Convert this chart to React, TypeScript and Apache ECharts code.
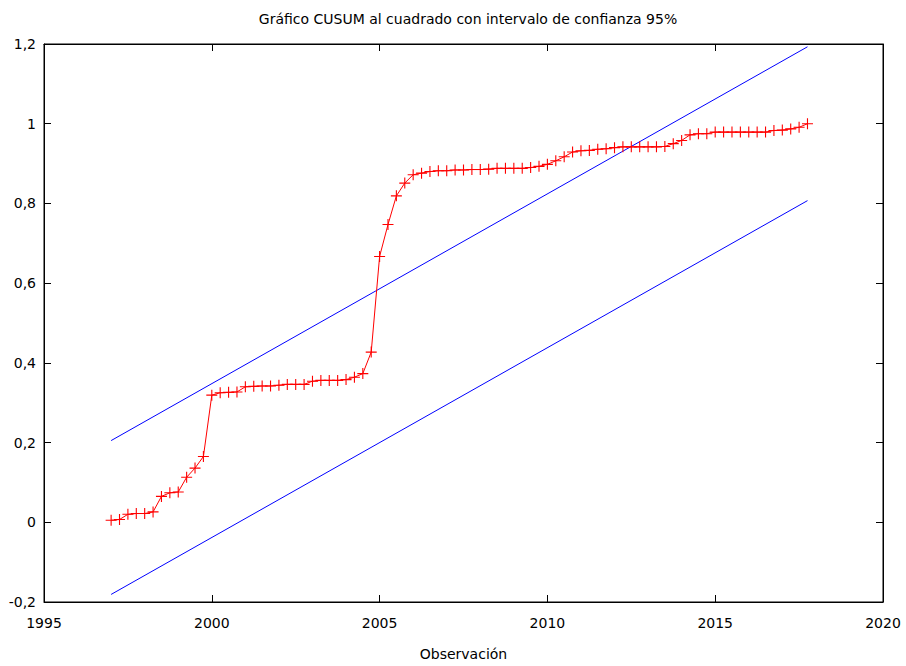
import React, { useEffect, useRef } from "react";
import * as echarts from "echarts";

// Quarterly observations, 1997:1 .. 2017:4
const startYear = 1997;
const periodsPerYear = 4;
const cusumsq = [
  0.005, 0.007, 0.020, 0.022, 0.022, 0.026, 0.065, 0.074, 0.076, 0.113, 0.136, 0.165,
  0.319, 0.325, 0.326, 0.327, 0.340, 0.341, 0.342, 0.342, 0.344, 0.346, 0.346, 0.346,
  0.354, 0.356, 0.356, 0.356, 0.358, 0.364, 0.373, 0.427, 0.667, 0.747, 0.819, 0.851,
  0.872, 0.876, 0.880, 0.882, 0.882, 0.884, 0.884, 0.885, 0.885, 0.886, 0.888, 0.888,
  0.888, 0.888, 0.890, 0.893, 0.898, 0.907, 0.917, 0.929, 0.932, 0.933, 0.936, 0.937,
  0.940, 0.942, 0.942, 0.942, 0.942, 0.942, 0.943, 0.950, 0.958, 0.972, 0.975, 0.975,
  0.979, 0.979, 0.979, 0.979, 0.979, 0.979, 0.979, 0.983, 0.984, 0.987, 0.991, 1.0,
];
// Confidence band endpoints (straight lines)
const upperBand: [number, number][] = [[1997, 0.205], [2017.75, 1.193]];
const lowerBand: [number, number][] = [[1997, -0.181], [2017.75, 0.807]];

const xTicks = { min: 1995, max: 2020, interval: 5 };
const yTicks = { min: -0.2, max: 1.2, interval: 0.2 };

const titleText = "Gráfico CUSUM al cuadrado con intervalo de confianza 95%";
const xName = "Observación";

const FONT = "DejaVu Sans";
const FS = 14;

export default function App() {
  const ref = useRef<HTMLDivElement>(null);
  useEffect(() => {
    if (!ref.current) return;
    const chart = echarts.init(ref.current, undefined, { renderer: "svg" });
    const points = cusumsq.map((v, i) => [startYear + i / periodsPerYear, v]);
    const fmtY = (v: number) => {
      const r = Math.round(v * 10) / 10;
      return String(r).replace(".", ",");
    };
    const fmtX = (v: number) => String(Math.round(v));
    const tick = { show: true, inside: true, length: 7, lineStyle: { color: "#000", width: 1 } };
    const axisLine = { show: true, onZero: false, lineStyle: { color: "#000", width: 1 } };
    chart.setOption({
      animation: false,
      backgroundColor: "#fff",
      title: {
        text: titleText,
        left: 463,
        textAlign: "center",
        top: 7,
        textStyle: { fontFamily: FONT, fontSize: FS, fontWeight: "normal", color: "#000" },
      },
      grid: {
        left: 44, right: 23, top: 44, bottom: 55,
        show: true, borderColor: "#000", borderWidth: 1, containLabel: false,
      },
      xAxis: [
        {
          type: "value", ...xTicks, position: "bottom",
          name: xName, nameLocation: "middle", nameGap: 45,
          nameTextStyle: { fontFamily: FONT, fontSize: FS, color: "#000" },
          axisLine, axisTick: tick, splitLine: { show: false },
          axisLabel: { fontFamily: FONT, fontSize: FS, color: "#000", margin: 14, formatter: fmtX },
        },
        {
          type: "value", ...xTicks, position: "top",
          axisLine, axisTick: tick, splitLine: { show: false }, axisLabel: { show: false },
        },
      ],
      yAxis: [
        {
          type: "value", ...yTicks, position: "left",
          axisLine, axisTick: tick, splitLine: { show: false },
          axisLabel: { fontFamily: FONT, fontSize: FS, color: "#000", margin: 8, formatter: fmtY },
        },
        {
          type: "value", ...yTicks, position: "right",
          axisLine, axisTick: tick, splitLine: { show: false }, axisLabel: { show: false },
        },
      ],
      series: [
        {
          type: "line", data: upperBand, showSymbol: false, symbol: "none",
          lineStyle: { color: "#0000ff", width: 1 }, silent: true,
        },
        {
          type: "line", data: lowerBand, showSymbol: false, symbol: "none",
          lineStyle: { color: "#0000ff", width: 1 }, silent: true,
        },
        {
          type: "line", data: points,
          symbol: "path://M0,4.5H10V5.5H0Z M4.5,0H5.5V10H4.5Z",
          symbolSize: 11, showSymbol: true, showAllSymbol: true,
          itemStyle: { color: "#ff0000", borderWidth: 0 },
          lineStyle: { color: "#ff0000", width: 1 },
          emphasis: { disabled: true },
        },
      ],
    });
    return () => chart.dispose();
  }, []);
  return (
    <div style={{ position: "fixed", left: 0, top: 0, width: 906, height: 666, background: "#fff" }}>
      <div ref={ref} style={{ width: 906, height: 666 }} />
    </div>
  );
}
